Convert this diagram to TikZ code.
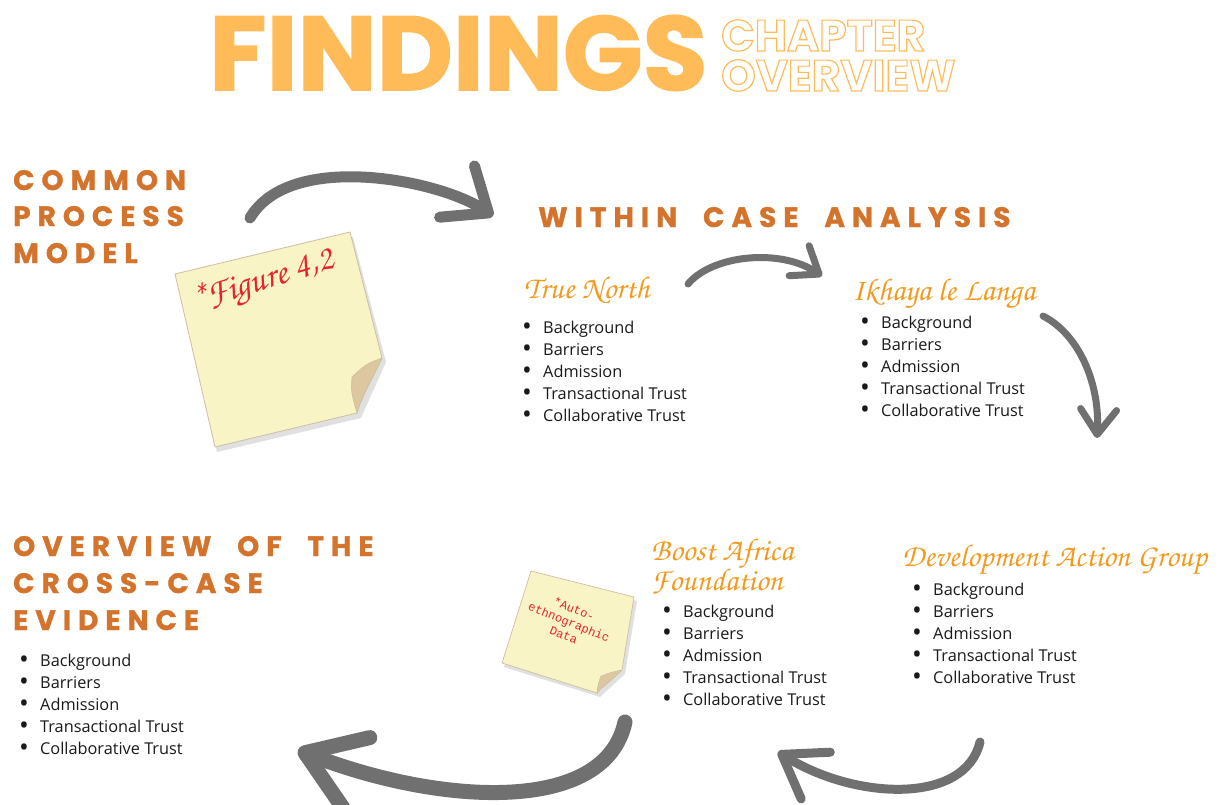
\documentclass[tikz,border=0pt]{standalone}
\usepackage[T1]{fontenc}
\usepackage{fontspec}
\usepackage{graphicx}
\usetikzlibrary{arrows.meta}

\setmainfont{Open Sans}
\newfontfamily\headfont[LetterSpace=25, WordSpace=2.0, FakeBold=1.2]{Poppins}
\newfontfamily\bigfont[FakeBold=1.5]{Poppins}
\newfontfamily\outlinefont{Poppins}
\newfontfamily\notefont{Liberation Mono}
\newcommand\handfont{\fontencoding{T1}\fontfamily{pzc}\fontseries{mb}\fontshape{it}\selectfont}
% hollow letters: stroke only, in the title orange
\newcommand\hollowtext[1]{\special{pdf:literal direct 1 Tr 1.2 w 1 0.733 0.341 RG}#1\special{pdf:literal direct 0 Tr}}

\definecolor{headorange}{HTML}{D4732B}
\definecolor{scriptorange}{HTML}{F39A1E}
\definecolor{findorange}{HTML}{FFBB57}
\definecolor{arrowgray}{HTML}{707070}
\definecolor{notered}{HTML}{E8232B}
\definecolor{noteyellow}{HTML}{F8F4C6}
\definecolor{noteedge}{HTML}{CDBFA3}
\definecolor{foldtan}{HTML}{DCC7A0}

% the same five points under every case
\newcommand\dotitem{\makebox[21pt][l]{\raisebox{-2.4pt}{\scalebox{1.6}{\textbullet}}}}
\newcommand\trustitems{\begin{tabular}[t]{@{}l@{}}
\dotitem Background\\
\dotitem Barriers\\
\dotitem Admission\\
\dotitem Transactional Trust\\
\dotitem Collaborative Trust
\end{tabular}}

\begin{document}
\begin{tikzpicture}[x=1pt, y=-1pt,
	head/.style={anchor=base west, inner sep=0, text=headorange, font=\headfont\bfseries\fontsize{28}{28}\selectfont},
	casename/.style={anchor=base west, inner sep=0, text=scriptorange, font=\handfont\fontsize{31.5}{31.5}\selectfont},
	itemlist/.style={anchor=base west, inner sep=0, text=black!90, font=\fontsize{16.3}{22}\selectfont},
	hollow/.style={anchor=base west, inner sep=0, text=findorange, font=\outlinefont\bfseries\fontsize{44}{44}\selectfont},
	flow/.style={draw=arrowgray, line cap=round, line join=round}]
	\useasboundingbox (0,0) rectangle (1226,805);
	\clip (0,0) rectangle (1226,805);

	% title
	\node[anchor=base west, inner sep=0, text=findorange, font=\bigfont\bfseries\fontsize{105}{105}\selectfont] (findings) at (209,90) {FINDINGS};
	\node[hollow] (chapter) at (721,51) {\hollowtext{CHAPTER}};
	\node[hollow] (overview2) at (721,91) {\hollowtext{OVERVIEW}};

	% sections
	\node[head] (common) at (13,190) {COMMON};
	\node[head] (process) at (13,226) {PROCESS};
	\node[head] (model) at (13,263) {MODEL};
	\node[head] (within) at (538,227) {WITHIN CASE ANALYSIS};
	\node[head] (cross1) at (13,556) {OVERVIEW OF THE};
	\node[head] (cross2) at (13,593) {CROSS-CASE};
	\node[head] (cross3) at (13,630) {EVIDENCE};

	% cases
	\node[casename] (truenorth) at (524,298) {True North};
	\node[casename] (ikhaya) at (852,300) {Ikhaya le Langa};
	\node[casename] (boost) at (651,560) {Boost Africa};
	\node[casename] (foundation) at (651,590) {Foundation};
	\node[casename] (dag) at (902,566) {Development Action Group};

	\node[itemlist] (tnlist) at (522,333) {\trustitems};
	\node[itemlist] (iklist) at (860,328) {\trustitems};
	\node[itemlist] (balist) at (662,617) {\trustitems};
	\node[itemlist] (daglist) at (912,595) {\trustitems};
	\node[itemlist] (crosslist) at (19,666) {\trustitems};

	% sticky note, figure 4.2
	\coordinate (n1) at (175,274);
	\coordinate (n2) at (350,232);
	\coordinate (n3) at (382,358);
	\coordinate (n4) at (357,413);
	\coordinate (n5) at (215,447);
	\coordinate (nf) at (352,377);
	\fill[black, opacity=.12] (178,279) -- (353,237) -- (386,362) -- (361,418) -- (217,452) -- cycle;
	\draw[noteedge, fill=noteyellow, line width=.8] (n1) -- (n2) -- (n3) .. controls (372,380) and (362,395) .. (n4) -- (n5) -- cycle;
	\draw[noteedge, fill=foldtan, line width=.6] (n3) .. controls (366,364) .. (nf) .. controls (351,392) .. (n4) .. controls (362,395) and (372,380) .. (n3);
	\node[rotate=17, text=notered, font=\handfont\fontsize{36}{36}\selectfont] (figref) at (264,284) {*Figure 4,2};

	% sticky note, auto-ethnography
	\coordinate (m1) at (531,571);
	\coordinate (m2) at (634,597);
	\coordinate (m3) at (622,670);
	\coordinate (m4) at (597,693);
	\coordinate (m5) at (502,663);
	\coordinate (mf) at (601,676);
	\fill[black, opacity=.12] (533,575) -- (637,601) -- (625,674) -- (600,697) -- (504,667) -- cycle;
	\draw[noteedge, fill=noteyellow, line width=.7] (m1) -- (m2) -- (m3) .. controls (612,680) and (603,686) .. (m4) -- (m5) -- cycle;
	\draw[noteedge, fill=foldtan, line width=.5] (m3) .. controls (612,672) .. (mf) .. controls (598,684) .. (m4) .. controls (603,686) and (612,680) .. (m3);
	\node[rotate=-22, text=notered, font=\notefont\fontsize{12}{14}\selectfont, align=center] (autonote) at (569,622) {*Auto-\\ethnographic\\Data};

	% arrows round the chapter
	\coordinate (a1s) at (250,218);
	\coordinate (a1e) at (493,216);
	\coordinate (a2s) at (688,284);
	\coordinate (a2e) at (822,276);
	\coordinate (a3s) at (1043,316);
	\coordinate (a3e) at (1097,438);
	\coordinate (a4s) at (980,742);
	\coordinate (a4e) at (778,752);
	\coordinate (a5s) at (625,722);
	\coordinate (a5e) at (298,750);
	\draw[flow, line width=11, -{Straight Barb[round, length=38pt, width=62pt]}] (a1s) .. controls (290,150) and (440,180) .. (a1e);
	\draw[flow, line width=7, -{Straight Barb[round, length=24pt, width=36pt]}] (a2s) .. controls (712,255) and (780,248) .. (a2e);
	\draw[flow, line width=7, -{Straight Barb[round, length=25pt, width=36pt]}] (a3s) .. controls (1080,335) and (1100,385) .. (a3e);
	\draw[flow, line width=9, -{Straight Barb[round, length=40pt, width=55pt]}] (a4s) .. controls (965,805) and (855,800) .. (a4e);
	\draw[flow, line width=15, -{Straight Barb[round, length=55pt, width=75pt]}] (a5s) .. controls (605,815) and (440,805) .. (a5e);
\end{tikzpicture}
\end{document}
